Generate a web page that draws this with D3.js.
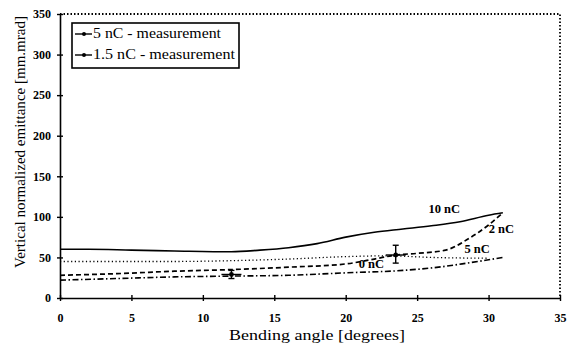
<!DOCTYPE html>
<html>
<head>
<meta charset="utf-8">
<script src="https://cdn.jsdelivr.net/npm/d3@7"></script>
<style>
  body { margin: 0; background: #fff; }
  svg text { font-family: "Liberation Serif", "Times New Roman", "DejaVu Serif", serif; }
</style>
</head>
<body>
<svg id="chart"></svg>
<script>
// simulated curves: [bending angle, emittance]
var curve10nC = [[0,60],[2,60],[5,59],[8,58],[12,57],[14,59],[16,62],[18,67],[20,75],[22,81],[24,85],[26,89],[28,94],[30,102],[31,105]];
var curve2nC  = [[0,28],[4,30],[8,33],[12,35],[16,38],[20,42],[22,48],[23.5,53],[25,55],[27,59],[28.5,72],[30,90],[31,105]];
var curve5nC  = [[0,45],[4,45],[8,45],[12,46],[16,48],[20,51],[23,52],[26,50],[30,49]];
var curve0nC  = [[0,22],[4,24],[8,26],[12,27],[16,28],[20,31],[24,34],[26.5,38],[28.5,43],[31,50]];

// measurements: angle, value, low, high
var meas5nC  = [{x: 23.5, y: 53, lo: 43, hi: 65}];
var meas15nC = [{x: 12, y: 29, lo: 24, hi: 34}];

var curveLabels = [
  {text: "10 nC", x: 26.9, y: 105},
  {text: "2 nC",  x: 30.9, y: 80},
  {text: "5 nC",  x: 29.2, y: 55},
  {text: "0 nC",  x: 21.8, y: 37}
];
var legendItems = ["5 nC - measurement", "1.5 nC - measurement"];
var xTicks = [0, 5, 10, 15, 20, 25, 30, 35];
var yTicks = [0, 50, 100, 150, 200, 250, 300, 350];

var width = 574, height = 347;
var margin = {top: 14, right: 14, bottom: 49, left: 60};
var serif = "Liberation Serif, Times New Roman, DejaVu Serif, serif";

var svg = d3.select("#chart").attr("width", width).attr("height", height);

var x = d3.scaleLinear().domain([0, 35]).range([margin.left, width - margin.right]);
var y = d3.scaleLinear().domain([0, 350]).range([height - margin.bottom, margin.top]);

// dotted top and right frame
svg.append("path")
  .attr("d", "M" + x(0) + "," + y(350) + "H" + x(35) + "V" + y(0))
  .attr("fill", "none")
  .attr("stroke", "#000")
  .attr("stroke-width", 1.8)
  .attr("stroke-dasharray", "1.5,2");

// axes with ticks crossing the line
var xAxis = svg.append("g")
  .attr("transform", "translate(0," + y(0) + ")")
  .call(d3.axisBottom(x).tickValues(xTicks).tickSize(0).tickPadding(15));
xAxis.attr("font-family", serif);
xAxis.select(".domain").attr("stroke-width", 1.6);
xAxis.selectAll(".tick").append("line").attr("y1", -3).attr("y2", 3).attr("stroke", "#000").attr("stroke-width", 1.4);
xAxis.selectAll(".tick text").attr("font-size", 12).attr("font-weight", "bold").attr("font-family", serif);

var yAxis = svg.append("g")
  .attr("transform", "translate(" + x(0) + ",0)")
  .call(d3.axisLeft(y).tickValues(yTicks).tickSize(0).tickPadding(9));
yAxis.attr("font-family", serif);
yAxis.select(".domain").attr("stroke-width", 1.6);
yAxis.selectAll(".tick").append("line").attr("x1", -3).attr("x2", 3).attr("stroke", "#000").attr("stroke-width", 1.4);
yAxis.selectAll(".tick text").attr("font-size", 12).attr("font-weight", "bold").attr("font-family", serif);

// axis titles
svg.append("text")
  .attr("x", 317)
  .attr("y", 340)
  .attr("text-anchor", "middle")
  .attr("font-size", 15)
  .attr("font-family", serif)
  .attr("textLength", 176)
  .attr("lengthAdjust", "spacingAndGlyphs")
  .text("Bending angle [degrees]");

svg.append("text")
  .attr("transform", "translate(25,142) rotate(-90)")
  .attr("text-anchor", "middle")
  .attr("font-size", 14)
  .attr("font-family", serif)
  .attr("textLength", 252)
  .attr("lengthAdjust", "spacingAndGlyphs")
  .text("Vertical normalized emittance  [mm.mrad]");

// curves
var line = d3.line().curve(d3.curveMonotoneX).x(d => x(d[0])).y(d => y(d[1]));
var series = [
  {data: curve10nC, dash: null, w: 1.6},
  {data: curve2nC, dash: "5,3", w: 1.7},
  {data: curve5nC, dash: "1.2,2.5", w: 1.3},
  {data: curve0nC, dash: "6,2.5,1.5,2.5", w: 1.6}
];
series.forEach(function (s) {
  svg.append("path")
    .datum(s.data)
    .attr("d", line)
    .attr("fill", "none")
    .attr("stroke", "#000")
    .attr("stroke-width", s.w)
    .attr("stroke-dasharray", s.dash);
});

// curve labels
svg.selectAll("text.clabel")
  .data(curveLabels)
  .enter()
  .append("text")
  .attr("class", "clabel")
  .attr("x", d => x(d.x))
  .attr("y", d => y(d.y))
  .attr("text-anchor", "middle")
  .attr("font-size", 12.5)
  .attr("font-weight", "bold")
  .attr("font-family", serif)
  .text(d => d.text);

// measurement points with error bars
function drawMeas(data) {
  data.forEach(function (m) {
    var g = svg.append("g");
    g.append("line").attr("x1", x(m.x) - 10).attr("x2", x(m.x) + 10)
      .attr("y1", y(m.y)).attr("y2", y(m.y)).attr("stroke", "#000").attr("stroke-width", 1.4);
    g.append("line").attr("x1", x(m.x)).attr("x2", x(m.x))
      .attr("y1", y(m.lo)).attr("y2", y(m.hi)).attr("stroke", "#000").attr("stroke-width", 1.4);
    g.append("line").attr("x1", x(m.x) - 3).attr("x2", x(m.x) + 3)
      .attr("y1", y(m.lo)).attr("y2", y(m.lo)).attr("stroke", "#000").attr("stroke-width", 1.4);
    g.append("line").attr("x1", x(m.x) - 3).attr("x2", x(m.x) + 3)
      .attr("y1", y(m.hi)).attr("y2", y(m.hi)).attr("stroke", "#000").attr("stroke-width", 1.4);
    g.append("circle").attr("cx", x(m.x)).attr("cy", y(m.y)).attr("r", 2.4).attr("fill", "#000");
  });
}
drawMeas(meas5nC);
drawMeas(meas15nC);

// legend
var lg = svg.append("g").attr("transform", "translate(72,23)");
lg.append("rect").attr("width", 167).attr("height", 45)
  .attr("fill", "#fff").attr("stroke", "#000").attr("stroke-width", 1.6);
var legendWidths = [128, 142];
legendItems.forEach(function (t, i) {
  var yy = 11 + i * 21;
  lg.append("line").attr("x1", 3).attr("x2", 20).attr("y1", yy).attr("y2", yy)
    .attr("stroke", "#000").attr("stroke-width", 1.4);
  lg.append("circle").attr("cx", 12).attr("cy", yy).attr("r", 2).attr("fill", "#000");
  lg.append("text").attr("x", 21).attr("y", yy + 4).attr("font-size", 14)
    .attr("font-family", serif)
    .attr("textLength", legendWidths[i])
    .attr("lengthAdjust", "spacingAndGlyphs")
    .text(t);
});
</script>
</body>
</html>
